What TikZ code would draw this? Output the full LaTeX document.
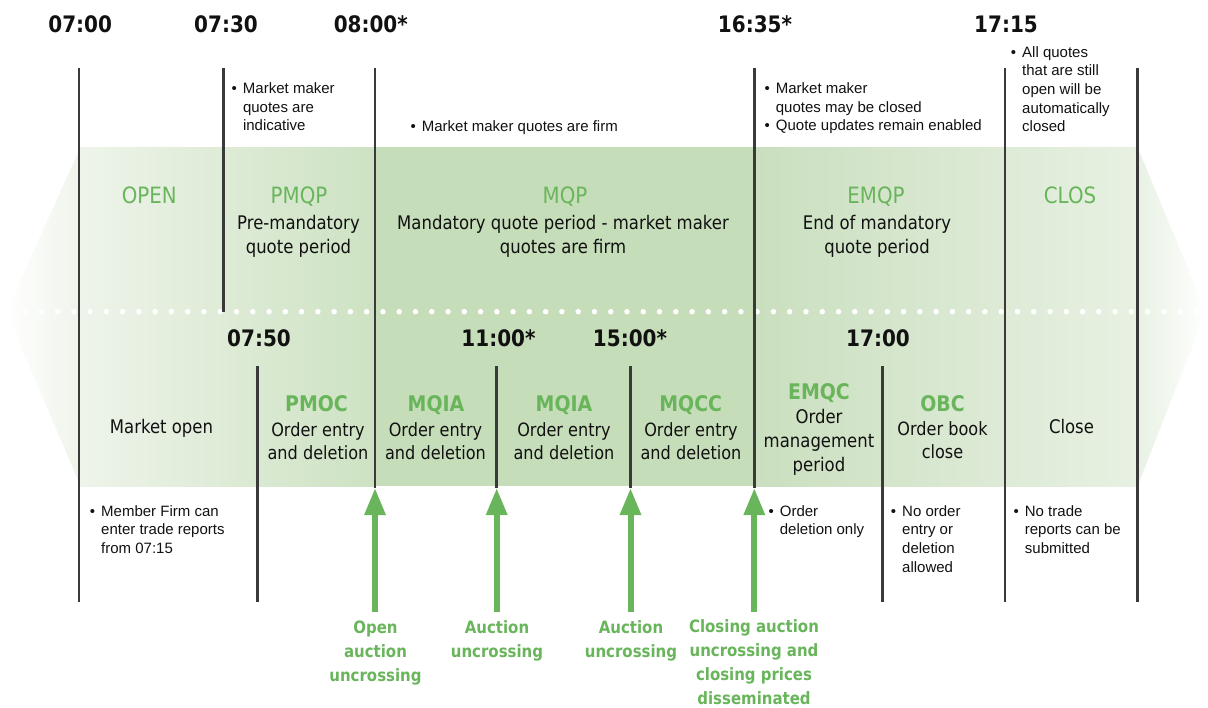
\documentclass[tikz,border=0pt]{standalone}
\usepackage{fontspec}
\setmainfont{DejaVu Sans}[FakeStretch=0.88]
\newfontfamily\bulf{Liberation Sans}
\usetikzlibrary{arrows.meta}
\definecolor{grn}{HTML}{69B55B}
\definecolor{lc}{HTML}{3A3A3A}
\definecolor{txt}{HTML}{111111}
\definecolor{bz}{HTML}{EEF4EA}
\definecolor{ba}{HTML}{CDE2C2}
\definecolor{bm}{HTML}{C6DDB9}
\definecolor{bb}{HTML}{CADFBF}
\definecolor{bc}{HTML}{E8F1E3}
\newcommand\bitem{\makebox[11.3pt][l]{\textbullet}}
\newcommand\bind{\hspace*{11.3pt}}
\tikzset{
  vline/.style={draw=lc, line width=2.7pt},
  tlab/.style={text=txt, font=\fontsize{22.7}{26}\selectfont\bfseries, anchor=base, inner sep=0pt},
  gtop/.style={text=grn, font=\fontsize{22.5}{26}\selectfont, anchor=base, inner sep=0pt},
  gbot/.style={text=grn, font=\fontsize{21.5}{26}\selectfont\bfseries, anchor=base, inner sep=0pt},
  body/.style={text=txt, font=\fontsize{18.75}{24}\selectfont, align=center, anchor=north, inner sep=0pt},
  lbody/.style={text=txt, font=\fontsize{18.3}{23}\selectfont, align=center, anchor=north, inner sep=0pt},
  sbody/.style={text=txt, font=\fontsize{18.75}{24}\selectfont, anchor=base, inner sep=0pt},
  bnote/.style={text=txt, font=\bulf\fontsize{15}{18.6}\selectfont, align=left, anchor=north west, inner sep=0pt},
  alab/.style={text=grn, font=\fontsize{17}{24}\selectfont\bfseries, align=center, anchor=north, inner sep=0pt},
  garrow/.style={draw=grn, line width=6pt, -{Triangle[width=20pt,length=27pt]}}
}
\begin{document}
\begin{tikzpicture}[x=1pt,y=-1pt]
\useasboundingbox (0,0) rectangle (1208,708);
% ---- band ----
\shade[left color=white, right color=bz] (6,311.7) -- (80.5,147.3) -- (80.5,486) -- cycle;
\shade[left color=bz, right color=ba] (80,147.3) rectangle (376,486);
\fill[bm] (375.5,147.3) rectangle (754.5,486);
\shade[left color=bb, right color=bc] (754,147.3) rectangle (1138,486);
\shade[left color=bc, right color=white] (1137.5,147.3) -- (1206,311.7) -- (1137.5,486) -- cycle;
% dotted divider
\draw[white, line width=5.5pt, line cap=round, dash pattern=on 0pt off 16.27pt] (25,311.7) -- (1200,311.7);
% ---- vertical lines ----
\coordinate (v1t) at (79,68);     \coordinate (v1b) at (79,602);
\coordinate (v2t) at (223.3,68);  \coordinate (v2b) at (223.3,311.7);
\coordinate (v3t) at (375,68);    \coordinate (u1)  at (375,488);
\coordinate (v4t) at (754.3,68);  \coordinate (u4)  at (754.3,488);
\coordinate (v5t) at (1005,68);   \coordinate (v5b) at (1005,602);
\coordinate (v6t) at (1137.3,68); \coordinate (v6b) at (1137.3,602);
\coordinate (w1t) at (257.5,366); \coordinate (w1b) at (257.5,602);
\coordinate (w2t) at (496.7,366); \coordinate (u2)  at (496.7,488);
\coordinate (w3t) at (630.5,366); \coordinate (u3)  at (630.5,488);
\coordinate (w4t) at (882.7,366); \coordinate (w4b) at (882.7,602);
\draw[vline] (v1t) -- (v1b);
\draw[vline] (v2t) -- (v2b);
\draw[vline] (v3t) -- (u1);
\draw[vline] (v4t) -- (u4);
\draw[vline] (v5t) -- (v5b);
\draw[vline] (v6t) -- (v6b);
\draw[vline] (w1t) -- (w1b);
\draw[vline] (w2t) -- (u2);
\draw[vline] (w3t) -- (u3);
\draw[vline] (w4t) -- (w4b);
% ---- top times ----
\node[tlab] (t0700) at (80.2,33) {07:00};
\node[tlab] (t0730) at (226,33) {07:30};
\node[tlab] (t0800) at (370.8,33) {08:00*};
\node[tlab] (t1635) at (755,33) {16:35*};
\node[tlab] (t1715) at (1006,33) {17:15};
% ---- lower times ----
\node[tlab] (t0750) at (259,346.5) {07:50};
\node[tlab] (t1100) at (498.5,346.5) {11:00*};
\node[tlab] (t1500) at (630,346.5) {15:00*};
\node[tlab] (t1700) at (878,346.5) {17:00};
% ---- top notes ----
\node[bnote] (n1) at (231.5,82.7) {\bitem Market maker\\\bind quotes are\\\bind indicative};
\node[bnote] (n2) at (410.4,120.7) {\bitem Market maker quotes are firm};
\node[bnote] (n3) at (764.4,82.7) {\bitem Market maker\\\bind quotes may be closed\\\bitem Quote updates remain enabled};
\node[bnote] (n4) at (1010.7,46.2) {\bitem All quotes\\\bind that are still\\\bind open will be\\\bind automatically\\\bind closed};
% ---- upper band ----
\node[gtop] (open) at (149.3,204) {OPEN};
\node[gtop] (pmqp) at (299,204) {PMQP};
\node[gtop] (mqp) at (565,204) {MQP};
\node[gtop] (emqp) at (876,204) {EMQP};
\node[gtop] (clos) at (1070,204) {CLOS};
\node[body] (pmqpd) at (298.5,215.5) {Pre-mandatory\\quote period};
\node[body] (mqpd) at (563,215.5) {Mandatory quote period - market maker\\quotes are firm};
\node[body] (emqpd) at (877,215.5) {End of mandatory\\quote period};
% ---- lower band ----
\node[sbody] (mopen) at (161.5,433.3) {Market open};
\node[gbot] (pmoc) at (316.5,411.7) {PMOC};
\node[lbody] (pmocd) at (318,422.7) {Order entry\\and deletion};
\node[gbot] (mqia1) at (436,411.7) {MQIA};
\node[lbody] (mqia1d) at (435.5,422.7) {Order entry\\and deletion};
\node[gbot] (mqia2) at (564,411.7) {MQIA};
\node[lbody] (mqia2d) at (564,422.7) {Order entry\\and deletion};
\node[gbot] (mqcc) at (690.7,411.7) {MQCC};
\node[lbody] (mqccd) at (691,422.7) {Order entry\\and deletion};
\node[gbot] (emqc) at (819,399.3) {EMQC};
\node[body] (emqcd) at (819,408.7) {Order\\management\\period};
\node[gbot] (obc) at (942.5,411.7) {OBC};
\node[lbody] (obcd) at (942.5,421.2) {Order book\\close};
\node[sbody] (close) at (1071.5,433.3) {Close};
% ---- lower notes ----
\node[bnote] (n5) at (89.7,505.2) {\bitem Member Firm can\\\bind enter trade reports\\\bind from 07:15};
\node[bnote] (n6) at (768.4,505.2) {\bitem Order\\\bind deletion only};
\node[bnote] (n7) at (890.7,505.2) {\bitem No order\\\bind entry or\\\bind deletion\\\bind allowed};
\node[bnote] (n8) at (1013.4,505.2) {\bitem No trade\\\bind reports can be\\\bind submitted};
% ---- arrows and labels ----
\node[alab] (a1) at (375.5,620.3) {Open\\auction\\uncrossing};
\node[alab] (a2) at (497,620.3) {Auction\\uncrossing};
\node[alab] (a3) at (631,620.3) {Auction\\uncrossing};
\node[alab] (a4) at (754,619.8) {Closing auction\\uncrossing and\\closing prices\\disseminated};
\coordinate (s1) at (375,612);
\coordinate (s2) at (496.7,612);
\coordinate (s3) at (630.5,612);
\coordinate (s4) at (754.3,612);
\draw[garrow] (s1) -- (u1);
\draw[garrow] (s2) -- (u2);
\draw[garrow] (s3) -- (u3);
\draw[garrow] (s4) -- (u4);
\end{tikzpicture}
\end{document}
